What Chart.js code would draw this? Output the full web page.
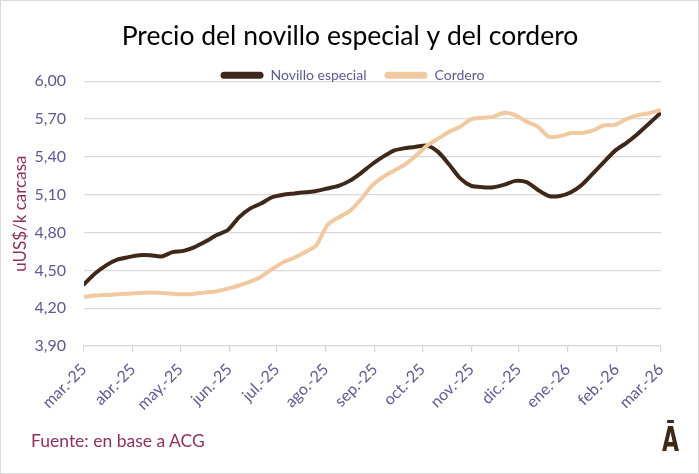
<!DOCTYPE html>
<html>
<head>
<meta charset="utf-8">
<script src="https://cdn.jsdelivr.net/npm/chart.js@4.4.1/dist/chart.umd.min.js"></script>
<style>
  html, body { margin: 0; padding: 0; background: #fff; }
  #wrap { position: relative; width: 699px; height: 474px; overflow: hidden; }
  #frame { position: absolute; left: 0; top: 0; width: 699px; height: 474px; box-sizing: border-box; border: 1px solid #d9d9d9; pointer-events: none; }
  canvas { position: absolute; left: 0; top: 0; }
  #source { position: absolute; left: 31px; top: 430px; font-family: Lato, sans-serif; font-size: 17.5px; color: #8e2f5e; }
  #logo { position: absolute; left: 662px; top: 419px; font-family: "Liberation Sans Narrow", "DejaVu Sans Condensed", sans-serif; font-weight: bold; font-size: 34px; color: #3f2819; transform: scaleX(0.72); transform-origin: left top; }
</style>
</head>
<body>
<div id="wrap">
  <canvas id="c" width="699" height="474"></canvas>
  <div id="source">Fuente: en base a ACG</div>
  <div id="logo">Ā</div>
  <div id="frame"></div>
</div>
<script>
// ---- Data ----
const chartTitle = 'Precio del novillo especial y del cordero';
const yAxisTitle = 'uUS$/k carcasa';
const seriesNames = ['Novillo especial', 'Cordero'];

// day offsets from 1 mar 2025 (weekly observations)
const weekDays = [0, 7, 14, 21, 28, 35, 42, 49, 56, 63, 70, 77, 84, 91, 98, 105, 112, 119, 126, 133,
  140, 147, 154, 161, 168, 175, 182, 189, 196, 203, 210, 217, 224, 231, 238, 245, 252, 259, 266, 273,
  280, 287, 294, 301, 308, 315, 322, 329, 336, 343, 350, 357, 364];

const novillo = [4.39, 4.475, 4.54, 4.585, 4.605, 4.62, 4.62, 4.61, 4.645, 4.655, 4.685, 4.73, 4.78, 4.82,
  4.92, 4.99, 5.03, 5.08, 5.10, 5.11, 5.12, 5.13, 5.15, 5.17, 5.21, 5.27, 5.34, 5.40, 5.45, 5.47,
  5.48, 5.49, 5.44, 5.34, 5.23, 5.17, 5.16, 5.16, 5.18, 5.21, 5.20, 5.14, 5.09, 5.09, 5.12, 5.18,
  5.27, 5.36, 5.45, 5.51, 5.58, 5.66, 5.74];

const cordero = [4.29, 4.30, 4.305, 4.31, 4.315, 4.32, 4.325, 4.32, 4.315, 4.31, 4.315, 4.325, 4.335, 4.355,
  4.38, 4.41, 4.45, 4.51, 4.565, 4.60, 4.645, 4.70, 4.86, 4.92, 4.97, 5.06, 5.17, 5.24, 5.29, 5.34,
  5.41, 5.49, 5.545, 5.60, 5.64, 5.70, 5.71, 5.72, 5.75, 5.73, 5.68, 5.64, 5.56, 5.565, 5.59, 5.59,
  5.61, 5.65, 5.655, 5.70, 5.73, 5.745, 5.77];

// month tick positions (days from 1 mar 2025) and labels
const monthDays = [0, 31, 61, 92, 122, 153, 184, 214, 245, 275, 306, 337, 365];
const monthLabels = ['mar.-25', 'abr.-25', 'may.-25', 'jun.-25', 'jul.-25', 'ago.-25', 'sep.-25',
  'oct.-25', 'nov.-25', 'dic.-25', 'ene.-26', 'feb.-26', 'mar.-26'];
const yTicks = [3.90, 4.20, 4.50, 4.80, 5.10, 5.40, 5.70, 6.00];

// ---- Styles ----
const brown = '#3f2819';
const cream = '#f0c9a0';
const axisText = '#5c5a92';
const maroon = '#8e2f5e';
const gridColor = '#d9d9d9';
const FONT = 'Lato, "Open Sans", sans-serif';

const toPoints = vals => vals.map((v, i) => ({ x: weekDays[i], y: v }));

// nudge title / legend boxes to sit where the reference places them
const boxShift = {
  id: 'boxShift',
  afterLayout(chart) {
    const t = chart.titleBlock;
    if (t) { t.top += 12.7; t.bottom += 12.7; t.left += 19.5; t.right += 19.5; }
    const l = chart.legend;
    if (l) { l.top += 11; l.bottom += 11; l.left += 22; l.right += 22; }
  }
};

new Chart(document.getElementById('c'), {
  type: 'line',
  data: {
    datasets: [
      { label: seriesNames[0], data: toPoints(novillo), borderColor: brown, backgroundColor: brown,
        borderWidth: 4, pointRadius: 0, tension: 0.25, order: 1, borderCapStyle: 'round', borderJoinStyle: 'round' },
      { label: seriesNames[1], data: toPoints(cordero), borderColor: cream, backgroundColor: cream,
        borderWidth: 4, pointRadius: 0, tension: 0.25, order: 0, borderCapStyle: 'round', borderJoinStyle: 'round' }
    ]
  },
  options: {
    responsive: false,
    animation: false,
    layout: { padding: { left: 0, right: 38, top: 7.5, bottom: 48 } },
    plugins: {
      tooltip: { enabled: false },
      title: {
        display: true, text: chartTitle, color: '#000',
        font: { family: FONT, size: 26.5, weight: 'normal' },
        padding: { top: 0, bottom: 0 }
      },
      legend: {
        display: true, position: 'top', align: 'center',
        labels: {
          color: axisText, font: { family: FONT, size: 14 },
          boxWidth: 43, boxHeight: 7, padding: 18,
          useBorderRadius: true, borderRadius: 3.5,
          sort: (a, b) => a.datasetIndex - b.datasetIndex,
          generateLabels(chart) {
            const items = Chart.defaults.plugins.legend.labels.generateLabels(chart);
            items.forEach(it => { it.lineWidth = 0; it.fillStyle = it.strokeStyle; });
            return items;
          }
        }
      }
    },
    scales: {
      x: {
        type: 'linear', min: 0, max: 365,
        afterBuildTicks: s => { s.ticks = monthDays.map(v => ({ value: v })); },
        afterFit: s => { s.height = 80; },
        ticks: {
          autoSkip: false, minRotation: 45, maxRotation: 45,
          color: axisText, font: { family: FONT, size: 16 }, padding: 8,
          callback: (v, i) => monthLabels[i]
        },
        grid: { display: true, drawOnChartArea: false, drawTicks: true, tickLength: 6, color: gridColor, lineWidth: 1.3 },
        border: { display: true, color: gridColor, width: 1.3 }
      },
      y: {
        min: 3.9, max: 6.0,
        afterBuildTicks: s => { s.ticks = yTicks.map(v => ({ value: v })); },
        afterFit: s => { s.width = 84; },
        ticks: {
          color: axisText, font: { family: FONT, size: 16 }, padding: 18,
          callback: v => v.toFixed(2).replace('.', ',')
        },
        grid: { color: gridColor, lineWidth: 1.3, drawTicks: false },
        border: { display: false },
        title: { display: true, text: yAxisTitle, color: maroon, font: { family: FONT, size: 17 }, padding: { top: 10, bottom: 0 } }
      }
    }
  },
  plugins: [boxShift]
});
</script>
</body>
</html>
